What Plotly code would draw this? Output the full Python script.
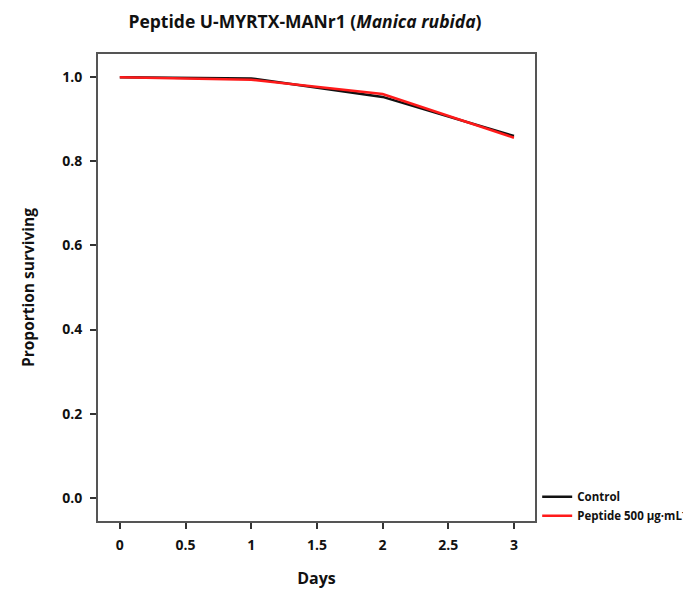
import plotly.graph_objects as go

days = [0, 1, 2, 3]
control = [1.0, 0.997, 0.953, 0.86]
peptide = [1.0, 0.994, 0.960, 0.856]
x_ticks = [0, 0.5, 1, 1.5, 2, 2.5, 3]
x_tick_text = ["0", "0.5", "1", "1.5", "2", "2.5", "3"]
y_ticks = [0.0, 0.2, 0.4, 0.6, 0.8, 1.0]
y_tick_text = ["0.0", "0.2", "0.4", "0.6", "0.8", "1.0"]

FONT = "Open Sans"
W, H = 683, 581  # page body adds an 8px margin

fig = go.Figure()
fig.add_trace(go.Scatter(x=days, y=control, mode="lines", name="<b>Control</b>",
                         line=dict(color="#111111", width=2.5)))
fig.add_trace(go.Scatter(x=days, y=peptide, mode="lines", name="<b>Peptide 500 µg·mL<sup>-1</sup></b>",
                         line=dict(color="#ff1a1a", width=2.5)))

fig.update_layout(
    width=W, height=H,
    paper_bgcolor="white", plot_bgcolor="white",
    margin=dict(l=90, r=156, t=46, b=68, autoexpand=False),
    font=dict(family=FONT, color="#111111"),
    title=dict(text="<b>Peptide U-MYRTX-MANr1 (<i>Manica rubida</i>)</b>",
               x=297/W, xanchor="center", y=1 - 14/H, yanchor="middle",
               font=dict(size=17.5, family=FONT, color="#111111")),
    showlegend=True,
    legend=dict(x=1.005, xanchor="left", y=0.083, yanchor="top",
                font=dict(size=11.5, family=FONT, color="#111111"),
                bgcolor="rgba(0,0,0,0)", tracegroupgap=0, itemwidth=30),
)
fig.update_xaxes(range=[-0.166, 3.16], tickvals=x_ticks, ticktext=["<b>%s</b>" % t for t in x_tick_text],
                 showgrid=False, zeroline=False, showline=True, mirror=True,
                 linecolor="#555555", linewidth=2, ticks="outside", ticklen=6, tickwidth=1.5,
                 tickcolor="#333333", tickfont=dict(size=14, family=FONT, color="#111111"),
                 ticklabelstandoff=4,
                 title=dict(text="<b>Days</b>", font=dict(size=16, family=FONT, color="#111111"), standoff=26))
fig.update_yaxes(range=[-0.055, 1.055], tickvals=y_ticks, ticktext=["<b>%s</b>" % t for t in y_tick_text],
                 showgrid=False, zeroline=False, showline=True, mirror=True,
                 linecolor="#555555", linewidth=2, ticks="outside", ticklen=6, tickwidth=1.5,
                 tickcolor="#333333", tickfont=dict(size=14, family=FONT, color="#111111"),
                 ticklabelstandoff=5,
                 title=dict(text="<b>Proportion surviving</b>", font=dict(size=15.5, family=FONT, color="#111111"), standoff=24))

fig.write_html("out.html")
